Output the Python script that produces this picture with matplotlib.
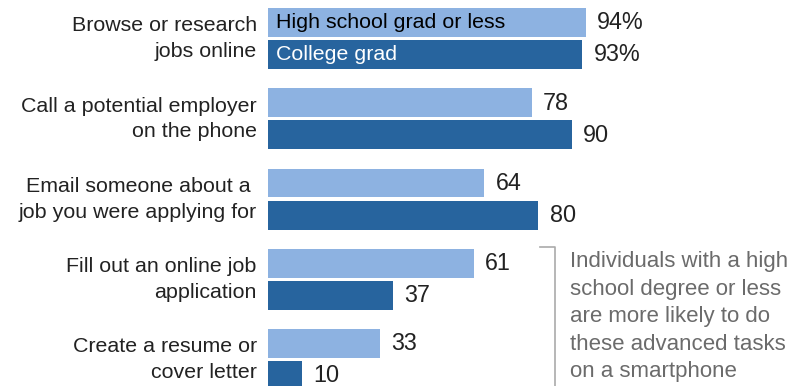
import numpy as np
from matplotlib import pyplot as plt

plt.rcParams["font.family"] = ["Liberation Sans", "DejaVu Sans"]

tasks = [
    ("Browse or research", "jobs online"),
    ("Call a potential employer", "on the phone"),
    ("Email someone about a ", "job you were applying for"),
    ("Fill out an online job", "application"),
    ("Create a resume or", "cover letter"),
]
hs_or_less = [94, 78, 64, 61, 33]
college = [93, 90, 80, 37, 10]
series_names = ["High school grad or less", "College grad"]
note = ["Individuals with a high", "school degree or less",
        "are more likely to do", "these advanced tasks", "on a smartphone"]

light = "#8db2e1"
dark = "#27649e"

fig = plt.figure(figsize=(8.04, 3.86), dpi=100)
ax = fig.add_axes([0, 0, 1, 1])

# one group per task; pitch of 1, bars 0.36 tall
y = np.arange(len(tasks))
off = 0.40
h = 0.36
ax.barh(y, hs_or_less, height=h, color=light)
ax.barh(y + off, college, height=h, color=dark)

fs = 15.4
nfs = 16.8
for i, (a, b) in enumerate(tasks):
    ax.text(-3.3, y[i] + 0.11, a, ha="right", va="baseline", fontsize=fs, color="#222222")
    ax.text(-3.3, y[i] + 0.43, b, ha="right", va="baseline", fontsize=fs, color="#222222")

for i in range(len(tasks)):
    s1 = f"{hs_or_less[i]}%" if i == 0 else str(hs_or_less[i])
    s2 = f"{college[i]}%" if i == 0 else str(college[i])
    ax.text(hs_or_less[i] + 3.3, y[i] + 0.085, s1, va="baseline", fontsize=nfs, color="#222222")
    ax.text(college[i] + 3.3, y[i] + off + 0.085, s2, va="baseline", fontsize=nfs, color="#222222")

# series names written inside the first pair of bars
ax.text(2.4, y[0] + 0.07, series_names[0], va="baseline", fontsize=fs, color="black")
ax.text(2.4, y[0] + off + 0.07, series_names[1], va="baseline", fontsize=fs, color="white")

# bracket and note beside the last two groups
ax.plot([80.6, 84.9, 84.9], [2.80, 2.80, 4.6], color="#aaaaaa", lw=1.2)
for k, line in enumerate(note):
    ax.text(89.3, 3.05 + k * 0.342, line, ha="left", va="baseline", fontsize=16,
            color="#6b6b6b")

ax.set_xlim(-268 / 3.38, (804 - 268) / 3.38)
ax.set_ylim((386 - 22.5) / 80.25, -22.5 / 80.25)
ax.axis("off")

fig.savefig("out.png", dpi=100)
